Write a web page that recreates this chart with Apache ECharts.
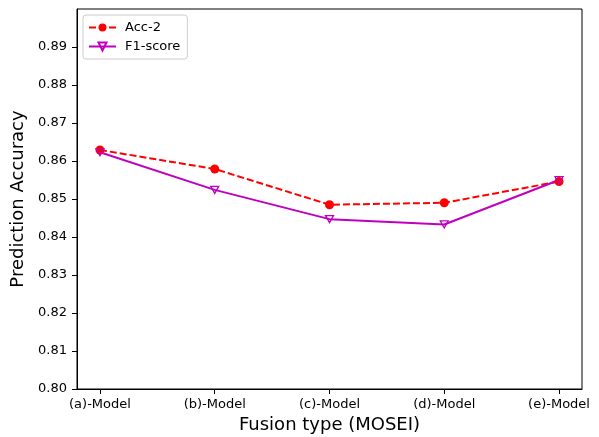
<!DOCTYPE html>
<html>
<head>
<meta charset="utf-8">
<script src="https://cdn.jsdelivr.net/npm/echarts@6/dist/echarts.min.js"></script>
<style>
  html, body { margin: 0; padding: 0; background: #fff; }
  #chart { width: 599px; height: 437px; }
</style>
</head>
<body>
<div id="chart"></div>
<script>
// categories on x axis
var categories = ["(a)-Model", "(b)-Model", "(c)-Model", "(d)-Model", "(e)-Model"];
// series values
var accValues = [0.8629, 0.8579, 0.8485, 0.8490, 0.8546];
var f1Values = [0.8623, 0.8524, 0.8447, 0.8433, 0.8550];

var font = "DejaVu Sans";
var chart = echarts.init(document.getElementById("chart"));

var option = {
  backgroundColor: "#fff",
  animation: false,
  textStyle: { fontFamily: font },
  grid: {
    left: 77,
    right: 17,
    top: 9,
    bottom: 48,
    outerBoundsMode: "none",
    show: true,
    borderColor: "#000",
    borderWidth: 1,
  },
  legend: {
    left: 83,
    top: 15,
    orient: "vertical",
    itemWidth: 27,
    itemHeight: 10,
    itemGap: 6,
    padding: [6, 7, 6, 5],
    borderColor: "#ccc",
    borderWidth: 1,
    borderRadius: 3,
    textStyle: { fontFamily: font, fontSize: 13, color: "#000", padding: [0, 0, 0, 4] },
    data: ["Acc-2", "F1-score"],
  },
  xAxis: {
    type: "value",
    min: -0.2,
    max: 4.2,
    name: "Fusion type (MOSEI)",
    nameLocation: "middle",
    nameGap: 26,
    nameTextStyle: { fontSize: 18, color: "#000", fontFamily: font },
    axisLine: { onZero: false, lineStyle: { color: "#000" } },
    axisTick: { show: true, length: 5, lineStyle: { color: "#000" }, customValues: [0, 1, 2, 3, 4] },
    axisLabel: {
      color: "#000",
      fontSize: 13,
      margin: 9,
      customValues: [0, 1, 2, 3, 4],
      formatter: function (v) { return categories[Math.round(v)]; },
    },
    splitLine: { show: false },
  },
  yAxis: {
    type: "value",
    min: 0.8,
    max: 0.9,
    interval: 0.01,
    name: "Prediction Accuracy",
    nameLocation: "middle",
    nameGap: 42,
    nameTextStyle: { fontSize: 18, color: "#000", fontFamily: font },
    axisLine: { show: true, onZero: false, lineStyle: { color: "#000" } },
    axisTick: { show: true, length: 5, lineStyle: { color: "#000" } },
    axisLabel: {
      color: "#000",
      fontSize: 13,
      margin: 10,
      showMaxLabel: false,
      formatter: function (v) { return v.toFixed(2); },
    },
    splitLine: { show: false },
  },
  series: [
    {
      name: "Acc-2",
      type: "line",
      data: accValues.map(function (v, i) { return [i, v]; }),
      symbol: "circle",
      symbolSize: 9,
      lineStyle: { color: "#ff0000", width: 2, type: [7, 3] },
      itemStyle: { color: "#ff0000" },
    },
    {
      name: "F1-score",
      type: "line",
      data: f1Values.map(function (v, i) { return [i, v]; }),
      symbol: "path://M0,0 L10,0 L5,9 Z",
      symbolSize: [8, 7],
      lineStyle: { color: "#bf00bf", width: 2 },
      itemStyle: { color: "transparent", borderColor: "#bf00bf", borderWidth: 1.3 },
    },
  ],
};

chart.setOption(option);
</script>
</body>
</html>
